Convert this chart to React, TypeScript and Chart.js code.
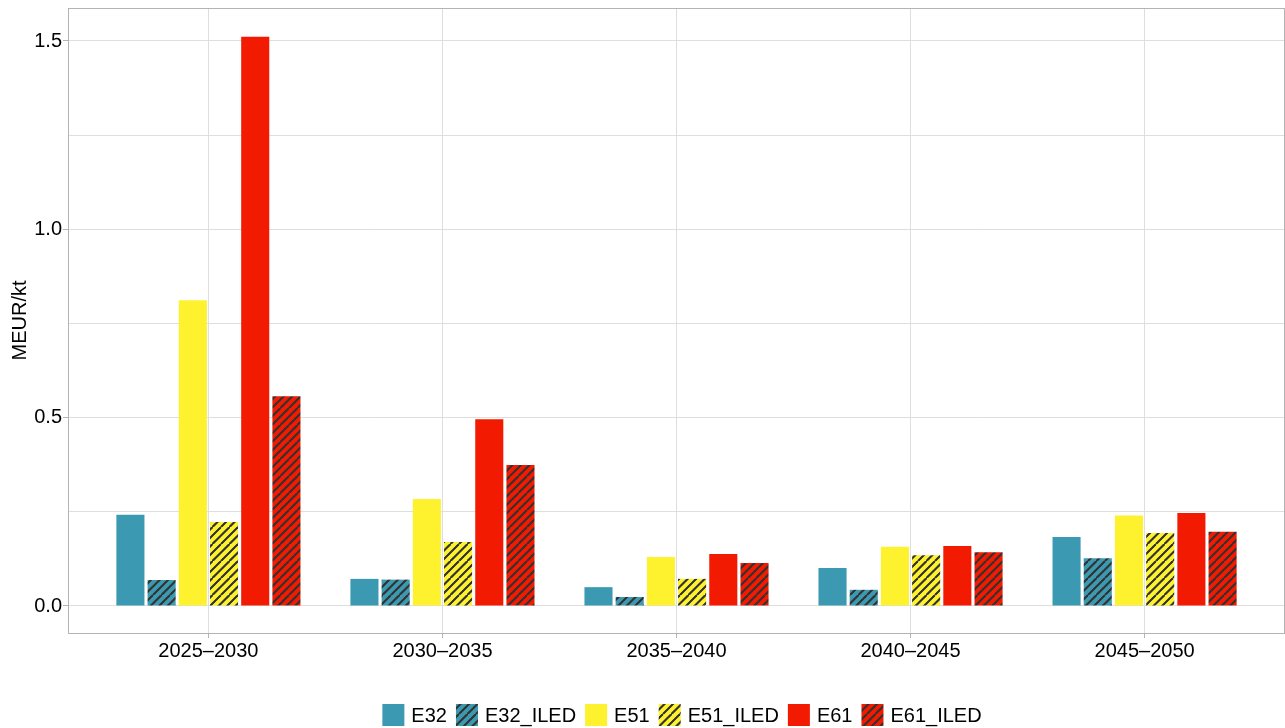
import React, { useEffect, useRef } from "react";
import { Chart, registerables } from "chart.js";

Chart.register(...registerables);

const categories = ["2025–2030", "2030–2035", "2035–2040", "2040–2045", "2045–2050"];
const seriesNames = ["E32", "E32_ILED", "E51", "E51_ILED", "E61", "E61_ILED"];
const e32 = [0.242, 0.072, 0.05, 0.101, 0.183];
const e32Iled = [0.069, 0.07, 0.024, 0.043, 0.127];
const e51 = [0.812, 0.284, 0.13, 0.157, 0.24];
const e51Iled = [0.223, 0.17, 0.072, 0.135, 0.194];
const e61 = [1.511, 0.496, 0.138, 0.159, 0.247];
const e61Iled = [0.557, 0.374, 0.114, 0.143, 0.197];
const yTicks = [0, 0.25, 0.5, 0.75, 1, 1.25, 1.5];
const yMin = -0.0717;
const yMax = 1.5876;

const TEAL = "#3B9AB2";
const YELLOW = "#FEF22E";
const RED = "#F21A00";
const FONT = '"Liberation Sans", Arial, Helvetica, sans-serif';

function hatch(bg: string): CanvasPattern | string {
  const s = 17;
  const c = document.createElement("canvas");
  c.width = s;
  c.height = s;
  const g = c.getContext("2d");
  if (!g) return bg;
  g.fillStyle = bg;
  g.fillRect(0, 0, s, s);
  g.strokeStyle = "#333333";
  g.lineWidth = 1.8;
  const half = s / 2;
  for (let k = -1; k <= 5; k++) {
    const cc = k * half;
    g.beginPath();
    g.moveTo(cc - s, s);
    g.lineTo(cc, 0);
    g.stroke();
    g.beginPath();
    g.moveTo(cc, s);
    g.lineTo(cc + s, 0);
    g.stroke();
  }
  const p = g.createPattern(c, "repeat");
  return p || bg;
}

const borderPlugin = {
  id: "panelBorder",
  afterDatasetsDraw(chart: any) {
    const { ctx, chartArea } = chart;
    ctx.save();
    ctx.strokeStyle = "#b3b3b3";
    ctx.lineWidth = 1;
    ctx.strokeRect(
      Math.round(chartArea.left) + 0.5,
      Math.round(chartArea.top) + 0.5,
      Math.round(chartArea.right - chartArea.left) - 1,
      Math.round(chartArea.bottom - chartArea.top)
    );
    ctx.restore();
  },
};

const legendPlugin = {
  id: "bottomLegend",
  afterDraw(chart: any) {
    const ctx = chart.ctx;
    ctx.save();
    ctx.font = `20px ${FONT}`;
    const box = 22;
    const gapText = 7;
    const gapItem = 9;
    const items = chart.data.datasets.map((ds: any) => ({
      label: ds.label,
      fill: ds.backgroundColor,
      w: ctx.measureText(ds.label).width,
    }));
    const total =
      items.reduce((s: number, it: any) => s + box + gapText + it.w, 0) + gapItem * (items.length - 1);
    let x = 682 - total / 2;
    const yc = 715;
    ctx.textBaseline = "middle";
    ctx.textAlign = "left";
    for (const it of items) {
      ctx.fillStyle = it.fill;
      ctx.fillRect(x, yc - box / 2, box, box);
      ctx.fillStyle = "#000000";
      ctx.fillText(it.label, x + box + gapText, yc + 1);
      x += box + gapText + it.w + gapItem;
    }
    ctx.restore();
  },
};

export default function App() {
  const ref = useRef<HTMLCanvasElement | null>(null);

  useEffect(() => {
    document.body.style.margin = "0";
    const canvas = ref.current;
    if (!canvas) return;
    const series = [e32, e32Iled, e51, e51Iled, e61, e61Iled];
    const fills = [TEAL, hatch(TEAL), YELLOW, hatch(YELLOW), RED, hatch(RED)];
    const chart = new Chart(canvas, {
      type: "bar",
      data: {
        datasets: series.map((vals, si) => ({
          label: seriesNames[si],
          data: vals.map((v, i) => ({ x: i, y: v })),
          backgroundColor: fills[si] as any,
          borderWidth: 0,
          categoryPercentage: 0.8,
          barPercentage: 0.9,
        })),
      },
      options: {
        animation: false,
        responsive: false,
        devicePixelRatio: 1,
        layout: { padding: { left: 0, right: 0, top: 8, bottom: 0 } },
        plugins: {
          legend: { display: false },
          tooltip: { enabled: false },
        },
        scales: {
          x: {
            type: "linear",
            offset: false,
            min: -0.6,
            max: categories.length - 0.4,
            afterBuildTicks: (scale: any) => {
              scale.ticks = categories.map((_, i) => ({ value: i }));
            },
            afterFit: (scale: any) => {
              scale.height = 95;
              scale.paddingLeft = 0;
              scale.paddingRight = 0;
            },
            ticks: {
              autoSkip: false,
              maxRotation: 0,
              padding: 1,
              color: "#000000",
              font: { family: FONT, size: 20 },
              callback: (v: any) => categories[Math.round(Number(v))] ?? "",
            },
            grid: {
              offset: false,
              color: "#dedede",
              lineWidth: 1,
              drawTicks: true,
              tickLength: 5,
              tickColor: "#b3b3b3",
            },
            border: { display: false },
          },
          y: {
            type: "linear",
            min: yMin,
            max: yMax,
            afterBuildTicks: (scale: any) => {
              scale.ticks = yTicks.map((v) => ({ value: v }));
            },
            afterFit: (scale: any) => {
              scale.width = 68;
              scale.paddingTop = 0;
              scale.paddingBottom = 0;
            },
            title: {
              display: true,
              text: "MEUR/kt",
              color: "#000000",
              font: { family: FONT, size: 20 },
              padding: { top: 8, bottom: 0 },
            },
            ticks: {
              padding: 1,
              color: "#000000",
              font: { family: FONT, size: 20 },
              callback: (v: any) => {
                const n = Number(v);
                return Math.abs(n * 2 - Math.round(n * 2)) < 1e-9 ? n.toFixed(1) : "";
              },
            },
            grid: {
              color: "#dedede",
              lineWidth: 1,
              drawTicks: true,
              tickLength: 5,
              tickColor: (ctx: any) => {
                const n = ctx.tick ? Number(ctx.tick.value) : 0;
                return Math.abs(n * 2 - Math.round(n * 2)) < 1e-9 ? "#b3b3b3" : "rgba(0,0,0,0)";
              },
            },
            border: { display: false },
          },
        },
      },
      plugins: [borderPlugin, legendPlugin],
    });
    return () => chart.destroy();
  }, []);

  return (
    <div style={{ width: 1285, height: 728 }}>
      <canvas ref={ref} width={1285} height={728} style={{ display: "block" }} />
    </div>
  );
}
